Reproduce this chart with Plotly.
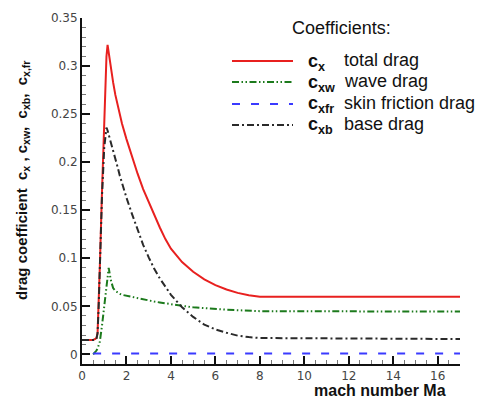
import plotly.graph_objects as go

# Mach number grid shared by all drag-coefficient series
mach = [0, 0.5, 0.6, 0.65, 0.7, 0.75, 0.8, 0.9, 1.0, 1.05, 1.1, 1.15, 1.2, 1.3,
        1.4, 1.5, 1.6, 1.7, 1.8, 2.0, 2.25, 2.5, 2.75, 3.0, 3.25, 3.5, 3.75, 4.0,
        4.5, 5.0, 5.5, 6.0, 6.5, 7.0, 7.5, 8.0, 17]

cx_total = [0.015, 0.015, 0.016, 0.017, 0.022, 0.05, 0.09, 0.17, 0.245, 0.28,
            0.31, 0.322, 0.313, 0.297, 0.283, 0.27, 0.259, 0.249, 0.24, 0.224,
            0.205, 0.188, 0.172, 0.158, 0.144, 0.132, 0.12, 0.11, 0.096, 0.086,
            0.078, 0.072, 0.0675, 0.064, 0.0615, 0.06, 0.06]

cx_wave = [None, 0.0, 0.002, 0.004, 0.006, 0.009, 0.013, 0.03, 0.05, 0.06,
           0.072, 0.085, 0.09, 0.077, 0.069, 0.066, 0.064, 0.063, 0.062, 0.061,
           0.0595, 0.058, 0.057, 0.056, 0.055, 0.054, 0.053, 0.052, 0.0505, 0.049,
           0.048, 0.047, 0.0465, 0.046, 0.0455, 0.045, 0.0445]

cx_friction = [None, 0.001, 0.001, 0.001, 0.001, 0.001, 0.001, 0.001, 0.001, 0.001,
               0.001, 0.001, 0.001, 0.001, 0.001, 0.001, 0.001, 0.001, 0.001, 0.001,
               0.001, 0.001, 0.001, 0.001, 0.001, 0.001, 0.001, 0.001, 0.001, 0.001,
               0.001, 0.001, 0.001, 0.001, 0.001, 0.001, 0.001]

cx_base = [0.015, 0.015, 0.015, 0.016, 0.022, 0.05, 0.09, 0.165, 0.215, 0.23,
           0.236, 0.233, 0.229, 0.221, 0.212, 0.204, 0.195, 0.186, 0.178, 0.163,
           0.146, 0.129, 0.114, 0.101, 0.089, 0.079, 0.07, 0.062, 0.049, 0.039,
           0.031, 0.026, 0.0225, 0.0195, 0.018, 0.017, 0.016]

x_ticks = [0, 2, 4, 6, 8, 10, 12, 14, 16]
y_ticks = [0, 0.05, 0.1, 0.15, 0.2, 0.25, 0.3, 0.35]

series = [
    # (values, symbol label, description, colour, dash)
    (cx_total, "c<sub>x</sub>", "total drag", "#e8201f", "solid"),
    (cx_wave, "c<sub>xw</sub>", "wave drag", "#1c7a1c", "7px,2.5px,1.5px,2.5px,1.5px,2.5px"),
    (cx_friction, "c<sub>xfr</sub>", "skin friction drag", "#3a3aff", "8px,11px"),
    (cx_base, "c<sub>xb</sub>", "base drag", "#2a2a2a", "7px,3px,2px,3px"),
]

W, H = 490, 400
ML, MR, MT, MB = 82, 30, 18, 36
PW, PH = W - ML - MR, H - MT - MB


def px(xp):
    return (xp - ML) / PW


def py(yp):
    return (H - MB - yp) / PH


fig = go.Figure()
for vals, sym, desc, col, dash in series:
    fig.add_trace(go.Scatter(x=mach, y=vals, mode="lines", name=desc,
                             line=dict(color=col, width=2, dash=dash),
                             showlegend=False))

annotations = []
shapes = []
# legend block
annotations.append(dict(x=px(290), y=py(28), xref="paper", yref="paper",
                        text="Coefficients:", showarrow=False, xanchor="left",
                        yanchor="middle",
                        font=dict(family="Liberation Sans", size=18, color="#111")))
rows = [61, 82, 104, 125]
for (vals, sym, desc, col, dash), ry in zip(series, rows):
    shapes.append(dict(type="line", xref="paper", yref="paper",
                       x0=px(232), x1=px(293), y0=py(ry), y1=py(ry),
                       line=dict(color=col, width=2, dash=dash)))
    annotations.append(dict(x=px(306), y=py(ry + 1), xref="paper", yref="paper",
                            text="<b>" + sym + "</b>", showarrow=False,
                            xanchor="left", yanchor="middle",
                            font=dict(family="Liberation Sans", size=18, color="#111")))
    annotations.append(dict(x=px(342), y=py(ry - 1), xref="paper", yref="paper",
                            text=desc, showarrow=False, xanchor="left",
                            yanchor="middle",
                            font=dict(family="Liberation Sans", size=18, color="#111")))

# axis titles
annotations.append(dict(x=px(380), y=py(390), xref="paper", yref="paper",
                        text="<b>mach number Ma</b>", showarrow=False,
                        xanchor="center", yanchor="middle",
                        font=dict(family="Liberation Sans", size=16, color="#111")))
annotations.append(dict(x=px(22), y=py(181), xref="paper", yref="paper",
                        text="<b>drag coefficient  c<sub>x</sub> , c<sub>xw</sub>,  "
                             "c<sub>xb</sub>,  c<sub>x,fr</sub></b>",
                        showarrow=False, textangle=-90,
                        xanchor="center", yanchor="middle",
                        font=dict(family="Liberation Sans", size=15, color="#111")))

fig.update_layout(
    width=W, height=H,
    margin=dict(l=ML, r=MR, t=MT, b=MB),
    paper_bgcolor="white", plot_bgcolor="white",
    shapes=shapes, annotations=annotations,
    font=dict(family="DejaVu Sans", size=12, color="#444"),
)
fig.update_xaxes(
    range=[0, 17], tickvals=x_ticks, showgrid=False, zeroline=False,
    showline=True, linecolor="#111", linewidth=2,
    ticks="inside", ticklen=8, tickwidth=2, tickcolor="#111",
    minor=dict(ticks="inside", ticklen=4, tickwidth=1, tickcolor="#777", dtick=0.5,
               showgrid=False),
    tickfont=dict(family="DejaVu Sans", size=12, color="#444"),
)
fig.update_yaxes(
    range=[-0.01, 0.35], tickvals=y_ticks, showgrid=False, zeroline=False,
    showline=True, linecolor="#111", linewidth=2,
    ticks="inside", ticklen=8, tickwidth=2, tickcolor="#111",
    minor=dict(ticks="inside", ticklen=4, tickwidth=1, tickcolor="#777", dtick=0.01,
               showgrid=False),
    tickfont=dict(family="DejaVu Sans", size=12, color="#444"),
)

fig.write_html("out.html")
